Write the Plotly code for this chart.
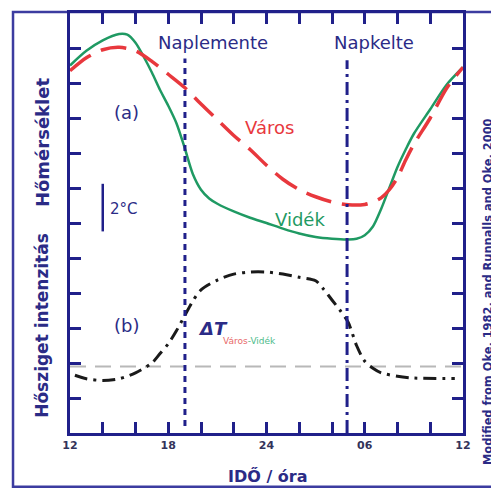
import plotly.graph_objects as go

# ---------------- data ----------------
hours_vidék = [12, 13, 14, 15, 15.5, 16, 16.5, 17, 17.5, 18, 18.5, 19, 19.5, 20, 20.5, 21, 22, 23, 24,
               25, 26, 27, 28, 29, 29.5, 30, 30.5, 31, 31.5, 32, 32.5, 33, 34, 35, 36]
temp_vidék = [10.5, 10.92, 11.22, 11.4, 11.38, 11.15, 10.75, 10.3, 9.8, 9.35, 8.85, 8.15, 7.4, 6.95, 6.7,
              6.55, 6.33, 6.15, 6.0, 5.84, 5.7, 5.6, 5.55, 5.53, 5.55, 5.65, 5.9, 6.4, 7.0, 7.6, 8.1,
              8.55, 9.25, 9.95, 10.45]

hours_város = [12, 13, 14, 15, 16, 17, 18, 19, 20, 21, 22, 23, 24, 25, 26, 27, 28, 29, 30, 30.5, 31,
               31.5, 32, 32.5, 33, 34, 35, 36]
temp_város = [10.35, 10.72, 10.95, 11.02, 10.92, 10.62, 10.25, 9.87, 9.4, 8.95, 8.5, 8.1, 7.65, 7.25,
              6.95, 6.75, 6.6, 6.52, 6.53, 6.6, 6.72, 6.95, 7.3, 7.8, 8.25, 9.0, 9.85, 10.45]

hours_dt = [12.3, 13, 14, 15, 16, 17, 17.5, 18, 18.5, 19, 19.5, 20, 21, 22, 23, 24, 25, 26, 27, 27.5,
            28, 28.5, 29, 29.5, 30, 30.5, 31, 32, 33, 35.5]
delta_t = [1.65, 1.55, 1.5, 1.55, 1.72, 2.0, 2.27, 2.55, 2.92, 3.35, 3.77, 4.09, 4.37, 4.54, 4.6, 4.6,
           4.54, 4.45, 4.35, 4.1, 3.8, 3.5, 3.15, 2.5, 2.05, 1.85, 1.72, 1.62, 1.57, 1.56]

baseline_hours = [12, 36]
baseline_value = [1.9, 1.9]

sunset_hour = [19.02, 19.02]
sunset_span = [0.2, 10.7]
sunrise_hour = [28.92, 28.92]
sunrise_span = [0.0, 10.65]

scale_bar_hour = [14.0, 14.0]
scale_bar_span = [5.76, 7.12]

tick_hours = [12, 14, 16, 18, 20, 22, 24, 26, 28, 30, 32, 34, 36]
tick_text = ["12", "", "", "18", "", "", "24", "", "", "06", "", "", "12"]

# ---------------- style ----------------
NAVY = "#2b2b86"
AXIS = "#20208a"
RED = "#e8383d"
GREEN = "#1f9a63"
FONT = "DejaVu Sans"

fig = go.Figure()

fig.add_trace(go.Scatter(x=baseline_hours, y=baseline_value, mode="lines",
                         line=dict(color="#b8b8b8", width=2, dash="16px,9px"), hoverinfo="skip"))
fig.add_trace(go.Scatter(x=hours_vidék, y=temp_vidék, mode="lines",
                         line=dict(color=GREEN, width=2.5, shape="spline", smoothing=0.8)))
fig.add_trace(go.Scatter(x=hours_város, y=temp_város, mode="lines",
                         line=dict(color=RED, width=3.5, shape="spline", smoothing=0.8, dash="26px,11px")))
fig.add_trace(go.Scatter(x=hours_dt, y=delta_t, mode="lines",
                         line=dict(color="#1a1a1a", width=3, shape="spline", smoothing=0.8,
                                   dash="13px,6px,3px,6px")))
fig.add_trace(go.Scatter(x=sunset_hour, y=sunset_span, mode="lines",
                         line=dict(color=AXIS, width=3, dash="6px,5px")))
fig.add_trace(go.Scatter(x=sunrise_hour, y=sunrise_span, mode="lines",
                         line=dict(color=AXIS, width=3, dash="13px,5px,3px,5px")))
fig.add_trace(go.Scatter(x=scale_bar_hour, y=scale_bar_span, mode="lines",
                         line=dict(color=AXIS, width=2.5)))

def txt(x, y, text, size=18, color=NAVY, **kw):
    fig.add_annotation(x=x, y=y, xref="x", yref="y", text=text, showarrow=False,
                       font=dict(family=FONT, size=size, color=color),
                       xanchor="center", yanchor="middle", **kw)

txt(20.73, 11.15, "Naplemente")
txt(30.57, 11.15, "Napkelte")
txt(15.42, 9.16, "(a)")
txt(15.42, 3.06, "(b)")
txt(24.21, 8.74, "Város", color=RED)
txt(26.05, 6.1, "Vidék", color=GREEN)
txt(15.3, 6.41, "2°C", size=15)
txt(20.73, 2.98, "<b><i>ΔT</i></b>", size=18)
txt(22.95, 2.64, '<span style="color:#e86a6a">Város</span><span style="color:#4dbb8a">-Vidék</span>',
    size=9)

def ptxt(x, y, text, size, angle=0):
    fig.add_annotation(x=x, y=y, xref="paper", yref="paper", text=text, showarrow=False,
                       textangle=angle, font=dict(family=FONT, size=size, color=NAVY),
                       xanchor="center", yanchor="middle")

ptxt(-0.0712, 0.6927, "<b>Hőmérséklet</b>", 18, -90)
ptxt(-0.0712, 0.2553, "<b>Hősziget intenzitás</b>", 17, -90)
ptxt(0.5038, -0.1017, "<b>IDŐ / óra</b>", 16)
ptxt(1.0636, 0.338, "<b>Modified from Oke, 1982, and Runnalls and Oke, 2000</b>", 11.4, -90)

# outer frame
fig.add_shape(type="rect", xref="paper", yref="paper", x0=-0.145, x1=1.2, y0=-0.1277, y1=1.0024,
              line=dict(color="#3c3ca0", width=2.5), layer="below")

# page body adds an 8px margin, so the figure is 8px smaller and margins shifted
fig.update_layout(
    width=491, height=481,
    margin=dict(l=62, r=36, t=2, b=56),
    paper_bgcolor="white", plot_bgcolor="white",
    showlegend=False,
    xaxis=dict(range=[12, 36], tickvals=tick_hours, ticktext=tick_text, ticks="inside", ticklen=11,
               tickwidth=2.5, tickcolor=AXIS, showline=True, linecolor=AXIS, linewidth=3,
               mirror="ticks", showgrid=False, zeroline=False,
               tickfont=dict(family=FONT, size=11, color="#33335a", weight="bold")),
    yaxis=dict(range=[0, 12], dtick=1, ticks="inside", ticklen=11, tickwidth=2.5, tickcolor=AXIS,
               showline=True, linecolor=AXIS, linewidth=3, mirror="ticks", showgrid=False,
               zeroline=False, showticklabels=False),
)

fig.write_html("out.html")
